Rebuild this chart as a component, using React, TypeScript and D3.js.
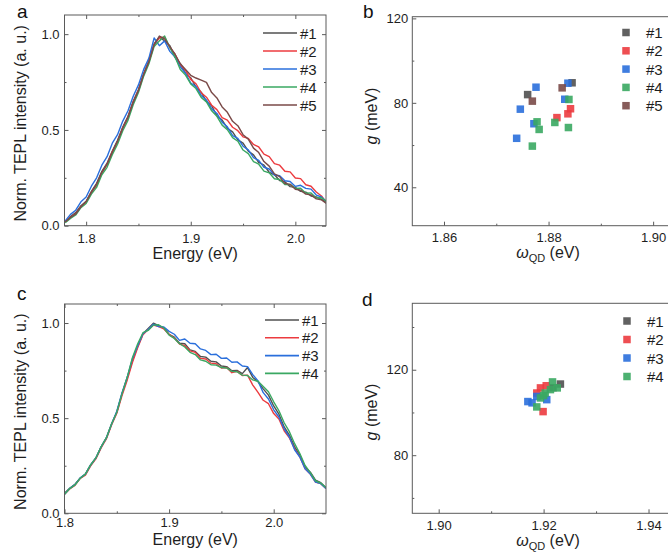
import React, { useEffect, useRef } from "react";
import * as d3 from "d3";

// spectra, panel a (step 0.005 eV)
const energyA = [
  1.780, 1.785, 1.790, 1.795, 1.800, 1.805, 1.810, 1.815, 1.820, 1.825,
  1.830, 1.835, 1.840, 1.845, 1.850, 1.855, 1.860, 1.865, 1.870, 1.875,
  1.880, 1.885, 1.890, 1.895, 1.900, 1.905, 1.910, 1.915, 1.920, 1.925,
  1.930, 1.935, 1.940, 1.945, 1.950, 1.955, 1.960, 1.965, 1.970, 1.975,
  1.980, 1.985, 1.990, 1.995, 2.000, 2.005, 2.010, 2.015, 2.020, 2.025, 2.030,
];
const specA1 = [
  0.02, 0.048, 0.068, 0.104, 0.127, 0.179, 0.221, 0.284, 0.326, 0.39,
  0.446, 0.515, 0.571, 0.65, 0.711, 0.795, 0.861, 0.95, 0.985, 0.965,
  0.94, 0.878, 0.846, 0.795, 0.772, 0.724, 0.697, 0.648, 0.626, 0.574,
  0.551, 0.509, 0.49, 0.448, 0.431, 0.389, 0.37, 0.33, 0.316, 0.279,
  0.266, 0.236, 0.23, 0.204, 0.2, 0.179, 0.175, 0.155, 0.15, 0.138, 0.12,
];
const specA2 = [
  0.02, 0.043, 0.062, 0.099, 0.121, 0.174, 0.211, 0.275, 0.32, 0.386,
  0.436, 0.51, 0.566, 0.645, 0.706, 0.79, 0.856, 0.945, 0.98, 0.985,
  0.93, 0.895, 0.84, 0.811, 0.764, 0.741, 0.694, 0.671, 0.629, 0.606,
  0.564, 0.551, 0.514, 0.496, 0.464, 0.456, 0.424, 0.411, 0.374, 0.361,
  0.324, 0.316, 0.284, 0.281, 0.249, 0.246, 0.214, 0.206, 0.176, 0.155, 0.12,
];
const specA3 = [
  0.025, 0.059, 0.081, 0.125, 0.15, 0.206, 0.25, 0.316, 0.36, 0.431,
  0.475, 0.546, 0.6, 0.676, 0.735, 0.816, 0.875, 0.98, 0.94, 0.965,
  0.91, 0.881, 0.83, 0.796, 0.745, 0.726, 0.68, 0.656, 0.61, 0.586,
  0.54, 0.516, 0.47, 0.456, 0.415, 0.396, 0.355, 0.341, 0.305, 0.296,
  0.265, 0.261, 0.235, 0.231, 0.205, 0.211, 0.195, 0.191, 0.16, 0.15, 0.125,
];
const specA4 = [
  0.015, 0.038, 0.056, 0.094, 0.116, 0.165, 0.2, 0.266, 0.305, 0.371,
  0.425, 0.496, 0.55, 0.631, 0.695, 0.781, 0.845, 0.936, 0.965, 0.99,
  0.93, 0.881, 0.815, 0.786, 0.74, 0.716, 0.67, 0.646, 0.6, 0.571,
  0.525, 0.501, 0.46, 0.441, 0.395, 0.376, 0.335, 0.321, 0.285, 0.276,
  0.245, 0.241, 0.215, 0.216, 0.195, 0.196, 0.17, 0.171, 0.145, 0.146, 0.125,
];
const specA5 = [
  0.02, 0.043, 0.061, 0.099, 0.126, 0.174, 0.216, 0.279, 0.321, 0.384,
  0.441, 0.509, 0.566, 0.644, 0.706, 0.789, 0.856, 0.944, 0.99, 0.975,
  0.935, 0.895, 0.845, 0.815, 0.785, 0.771, 0.76, 0.748, 0.695, 0.667,
  0.62, 0.592, 0.545, 0.522, 0.475, 0.452, 0.405, 0.382, 0.335, 0.311,
  0.27, 0.256, 0.22, 0.216, 0.19, 0.186, 0.165, 0.161, 0.14, 0.135, 0.115,
];

// spectra, panel c
const energyC = [
  1.800, 1.805, 1.810, 1.815, 1.820, 1.825, 1.830, 1.835, 1.840, 1.845,
  1.850, 1.855, 1.860, 1.865, 1.870, 1.875, 1.880, 1.885, 1.890, 1.895,
  1.900, 1.905, 1.910, 1.915, 1.920, 1.925, 1.930, 1.935, 1.940, 1.945,
  1.950, 1.955, 1.960, 1.965, 1.970, 1.975, 1.980, 1.985, 1.990, 1.995,
  2.000, 2.005, 2.010, 2.015, 2.020, 2.025, 2.030, 2.035, 2.040, 2.045, 2.050,
];
const specC1 = [
  0.105, 0.132, 0.153, 0.184, 0.207, 0.254, 0.291, 0.349, 0.396, 0.469,
  0.531, 0.629, 0.711, 0.804, 0.876, 0.944, 0.971, 0.999, 0.986, 0.974,
  0.941, 0.926, 0.894, 0.891, 0.859, 0.851, 0.824, 0.821, 0.799, 0.796,
  0.774, 0.771, 0.749, 0.751, 0.734, 0.766, 0.714, 0.691, 0.654, 0.621,
  0.564, 0.521, 0.454, 0.411, 0.349, 0.306, 0.244, 0.216, 0.174, 0.161, 0.135,
];
const specC2 = [
  0.10, 0.128, 0.147, 0.184, 0.201, 0.249, 0.286, 0.344, 0.391, 0.464,
  0.526, 0.619, 0.701, 0.794, 0.871, 0.939, 0.966, 0.989, 0.981, 0.969,
  0.94, 0.921, 0.889, 0.881, 0.854, 0.846, 0.814, 0.811, 0.789, 0.786,
  0.764, 0.766, 0.739, 0.746, 0.724, 0.726, 0.674, 0.636, 0.594, 0.576,
  0.524, 0.496, 0.434, 0.396, 0.339, 0.296, 0.234, 0.206, 0.164, 0.156, 0.13,
];
const specC3 = [
  0.10, 0.131, 0.151, 0.186, 0.206, 0.254, 0.291, 0.349, 0.396, 0.469,
  0.536, 0.634, 0.716, 0.814, 0.881, 0.944, 0.966, 0.994, 0.981, 0.979,
  0.956, 0.941, 0.909, 0.916, 0.894, 0.891, 0.864, 0.856, 0.834, 0.836,
  0.814, 0.816, 0.794, 0.796, 0.774, 0.771, 0.729, 0.696, 0.634, 0.601,
  0.544, 0.506, 0.444, 0.401, 0.334, 0.296, 0.234, 0.206, 0.164, 0.156, 0.13,
];
const specC4 = [
  0.10, 0.13, 0.149, 0.184, 0.206, 0.254, 0.291, 0.349, 0.396, 0.469,
  0.531, 0.629, 0.716, 0.819, 0.891, 0.949, 0.961, 0.989, 0.991, 0.974,
  0.936, 0.919, 0.891, 0.874, 0.846, 0.834, 0.806, 0.799, 0.781, 0.779,
  0.766, 0.764, 0.746, 0.744, 0.726, 0.724, 0.701, 0.694, 0.666, 0.639,
  0.586, 0.539, 0.476, 0.429, 0.366, 0.314, 0.251, 0.214, 0.171, 0.159, 0.135,
];

// scatter, panel b: [omega_QD (eV), g (meV)]
const scatB1 = [[1.8760, 83.9], [1.8845, 89.5]];
const scatB2 = [[1.8816, 73.0], [1.8837, 74.8], [1.8842, 77.2]];
const scatB3 = [[1.8776, 87.4], [1.8746, 77.0], [1.8739, 63.2], [1.8772, 70.1], [1.8837, 89.3], [1.8831, 81.7]];
const scatB4 = [[1.8778, 71.0], [1.8782, 67.4], [1.8769, 59.5], [1.8812, 70.7], [1.8839, 81.6], [1.8838, 68.3]];
const scatB5 = [[1.8769, 80.8], [1.8826, 87.1]];

// scatter, panel d
const scatD1 = [[1.9232, 113.3], [1.9218, 111.6]];
const scatD2 = [[1.9199, 100.4], [1.9194, 111.5], [1.9187, 109.1], [1.9205, 112.5]];
const scatD3 = [[1.9170, 105.1], [1.9206, 106.0], [1.9187, 107.5], [1.9178, 104.5]];
const scatD4 = [[1.9187, 102.6], [1.9194, 106.8], [1.9203, 109.1], [1.9217, 114.3], [1.9226, 111.5], [1.9213, 110.7], [1.9200, 107.9]];

const labels = ["#1", "#2", "#3", "#4", "#5"];
const colours = ["#505050", "#ec3b3f", "#2a6fdc", "#3aa862", "#7a4a48"];

const FONT = "'Liberation Sans', Arial, sans-serif";
const AXIS = "#5a5a5a";
const TXT = "#1e1e1e";

function styleAxis(sel, fontSize = 13) {
  sel.select(".domain").remove();
  sel.selectAll("line").attr("stroke", AXIS);
  sel.selectAll("text").attr("fill", TXT).attr("font-size", fontSize).attr("font-family", FONT);
}

function frame(g, w, h) {
  g.append("rect").attr("width", w).attr("height", h)
    .attr("fill", "none").attr("stroke", AXIS).attr("stroke-width", 1);
}

function drawSpectra(svg, o) {
  const g = svg.append("g").attr("transform", `translate(${o.left},${o.top})`);
  const w = o.right - o.left, h = o.bottom - o.top;
  const x = d3.scaleLinear().domain(o.xDomain).range([0, w]);
  const y = d3.scaleLinear().domain([0, 1.1]).range([h, 0]);

  const clipId = `clip-${o.id}`;
  g.append("clipPath").attr("id", clipId).append("rect").attr("width", w).attr("height", h);

  const line = d3.line().x(d => x(d[0])).y(d => y(d[1]));
  o.series.forEach((s, i) => {
    g.append("path")
      .datum(o.energy.map((e, k) => [e, s[k]]))
      .attr("clip-path", `url(#${clipId})`)
      .attr("fill", "none")
      .attr("stroke", colours[i])
      .attr("stroke-width", 1.4)
      .attr("stroke-linejoin", "round")
      .attr("d", line);
  });

  // axes (ticks inward)
  g.append("g").attr("transform", `translate(0,${h})`)
    .call(d3.axisBottom(x).tickValues(o.xMinor).tickSize(-2).tickFormat(() => ""))
    .call(styleAxis);
  g.append("g").attr("transform", `translate(0,${h})`)
    .call(d3.axisBottom(x).tickValues(o.xMajor).tickSize(-4).tickPadding(o.xPad).tickFormat(d3.format(".1f")))
    .call(styleAxis);
  g.append("g").call(d3.axisTop(x).tickValues(o.xMajor).tickSize(-4).tickFormat(() => "")).call(styleAxis);
  g.append("g").call(d3.axisTop(x).tickValues(o.xMinor).tickSize(-2).tickFormat(() => "")).call(styleAxis);
  g.append("g")
    .call(d3.axisLeft(y).tickValues([0, 0.5, 1.0]).tickSize(-4).tickPadding(5).tickFormat(d3.format(".1f")))
    .call(styleAxis);
  g.append("g").call(d3.axisLeft(y).tickValues([0.25, 0.75]).tickSize(-2).tickFormat(() => "")).call(styleAxis);
  g.append("g").attr("transform", `translate(${w},0)`)
    .call(d3.axisRight(y).tickValues([0, 0.5, 1.0]).tickSize(-4).tickFormat(() => "")).call(styleAxis);
  g.append("g").attr("transform", `translate(${w},0)`)
    .call(d3.axisRight(y).tickValues([0.25, 0.75]).tickSize(-2).tickFormat(() => "")).call(styleAxis);
  frame(g, w, h);

  // legend
  o.series.forEach((s, i) => {
    const ly = o.legendY + i * o.legendStep;
    svg.append("line").attr("x1", o.legendX).attr("x2", o.legendX + 34)
      .attr("y1", ly).attr("y2", ly).attr("stroke", colours[i]).attr("stroke-width", 1.6);
    svg.append("text").attr("x", o.legendX + 37).attr("y", ly + 5.5)
      .attr("font-size", 15).attr("font-family", FONT).attr("fill", TXT).text(labels[i]);
  });

  svg.append("text").attr("x", (o.left + o.right) / 2).attr("y", o.xTitleY)
    .attr("text-anchor", "middle").attr("font-size", 16).attr("font-family", FONT).attr("fill", TXT)
    .text("Energy (eV)");
  svg.append("text")
    .attr("transform", `translate(${o.yTitleX},${(o.top + o.bottom) / 2 + 3}) rotate(-90)`)
    .attr("text-anchor", "middle").attr("font-size", 16).attr("font-family", FONT).attr("fill", TXT)
    .text("Norm. TEPL intensity (a. u.)");
  svg.append("text").attr("x", o.letterX).attr("y", o.letterY)
    .attr("font-size", 19).attr("font-family", FONT).attr("fill", "#111").text(o.letter);
}

function drawScatter(svg, o) {
  const g = svg.append("g").attr("transform", `translate(${o.left},${o.top})`);
  const w = o.right - o.left, h = o.bottom - o.top;
  const x = d3.scaleLinear().domain(o.xDomain).range([0, w]);
  const y = d3.scaleLinear().domain(o.yDomain).range([h, 0]);

  g.append("g").attr("transform", `translate(0,${h})`)
    .call(d3.axisBottom(x).tickValues(o.xMinor).tickSize(-2).tickFormat(() => ""))
    .call(styleAxis);
  g.append("g").attr("transform", `translate(0,${h})`)
    .call(d3.axisBottom(x).tickValues(o.xMajor).tickSize(-4).tickPadding(o.xPad).tickFormat(d3.format(".2f")))
    .call(styleAxis);
  g.append("g")
    .call(d3.axisLeft(y).tickValues(o.yMajor).tickSize(-4).tickPadding(4).tickFormat(d3.format("d")))
    .call(styleAxis);
  g.append("g").call(d3.axisLeft(y).tickValues(o.yMinor).tickSize(-2).tickFormat(() => "")).call(styleAxis);
  frame(g, w, h);

  const sz = 7.5;
  o.series.forEach((s, i) => {
    g.selectAll(null).data(s).join("rect")
      .attr("x", d => x(d[0]) - sz / 2)
      .attr("y", d => y(d[1]) - sz / 2)
      .attr("width", sz).attr("height", sz)
      .attr("fill", colours[i]).attr("fill-opacity", 0.9);
  });

  o.series.forEach((s, i) => {
    const ly = o.legendY + i * o.legendStep;
    svg.append("rect").attr("x", o.legendX - sz / 2).attr("y", ly - sz / 2)
      .attr("width", sz).attr("height", sz).attr("fill", colours[i]).attr("fill-opacity", 0.9);
    svg.append("text").attr("x", o.legendX + 20).attr("y", ly + 5.5)
      .attr("font-size", 15).attr("font-family", FONT).attr("fill", TXT).text(labels[i]);
  });

  const xt = svg.append("text").attr("x", o.xTitleX).attr("y", o.xTitleY)
    .attr("text-anchor", "middle").attr("font-size", 16).attr("font-family", FONT).attr("fill", TXT);
  xt.append("tspan").attr("font-style", "italic").text("ω");
  xt.append("tspan").attr("font-size", 11).attr("dy", 4).text("QD");
  xt.append("tspan").attr("dy", -4).text(" (eV)");

  const yt = svg.append("text")
    .attr("transform", `translate(${o.yTitleX},${o.yTitleCY}) rotate(-90)`)
    .attr("text-anchor", "middle").attr("font-size", 16).attr("font-family", FONT).attr("fill", TXT);
  yt.append("tspan").attr("font-style", "italic").text("g");
  yt.append("tspan").text(" (meV)");

  svg.append("text").attr("x", o.letterX).attr("y", o.letterY)
    .attr("font-size", 19).attr("font-family", FONT).attr("fill", "#111").text(o.letter);
}

const App = () => {
  const ref = useRef(null);

  useEffect(() => {
    const svg = d3.select(ref.current);
    svg.selectAll("*").remove();

    drawSpectra(svg, {
      id: "a", letter: "a", letterX: 17, letterY: 18,
      left: 64.5, right: 326, top: 15, bottom: 225.7,
      xDomain: [1.7793, 2.0293], xMajor: [1.8, 1.9, 2.0], xMinor: [1.85, 1.95], xPad: 8,
      energy: energyA, series: [specA1, specA2, specA3, specA4, specA5],
      legendX: 263, legendY: 33, legendStep: 18,
      xTitleY: 259, yTitleX: 26,
    });
    drawSpectra(svg, {
      id: "c", letter: "c", letterX: 17, letterY: 300,
      left: 64.5, right: 326, top: 304, bottom: 513.3,
      xDomain: [1.8, 2.05], xMajor: [1.8, 1.9, 2.0], xMinor: [1.85, 1.95], xPad: 4,
      energy: energyC, series: [specC1, specC2, specC3, specC4],
      legendX: 265, legendY: 320, legendStep: 17.8,
      xTitleY: 545, yTitleX: 26,
    });
    drawScatter(svg, {
      letter: "b", letterX: 363, letterY: 18,
      left: 412.3, right: 680, top: 16.7, bottom: 225.7,
      xDomain: [1.85394, 1.90514], xMajor: [1.86, 1.88, 1.9], xMinor: [1.87, 1.89], xPad: 7,
      yDomain: [21.8, 120.8], yMajor: [40, 80, 120], yMinor: [60, 100],
      series: [scatB1, scatB2, scatB3, scatB4, scatB5],
      legendX: 626, legendY: 32.5, legendStep: 18.3,
      xTitleX: 548, xTitleY: 258, yTitleX: 377, yTitleCY: 116,
    });
    drawScatter(svg, {
      letter: "d", letterX: 362, letterY: 306,
      left: 412.3, right: 680, top: 303.3, bottom: 513.3,
      xDomain: [1.89497, 1.94600], xMajor: [1.9, 1.92, 1.94], xMinor: [1.91, 1.93], xPad: 7,
      yDomain: [52.8, 151.1], yMajor: [80, 120], yMinor: [60, 100, 140],
      series: [scatD1, scatD2, scatD3, scatD4],
      legendX: 627, legendY: 321, legendStep: 18.5,
      xTitleX: 548, xTitleY: 546, yTitleX: 377, yTitleCY: 412,
    });
  }, []);

  return (
    <div>
      <svg ref={ref} width={668} height={558}
        style={{ position: "absolute", left: 0, top: 0, background: "#fff" }} />
    </div>
  );
};

export default App;
